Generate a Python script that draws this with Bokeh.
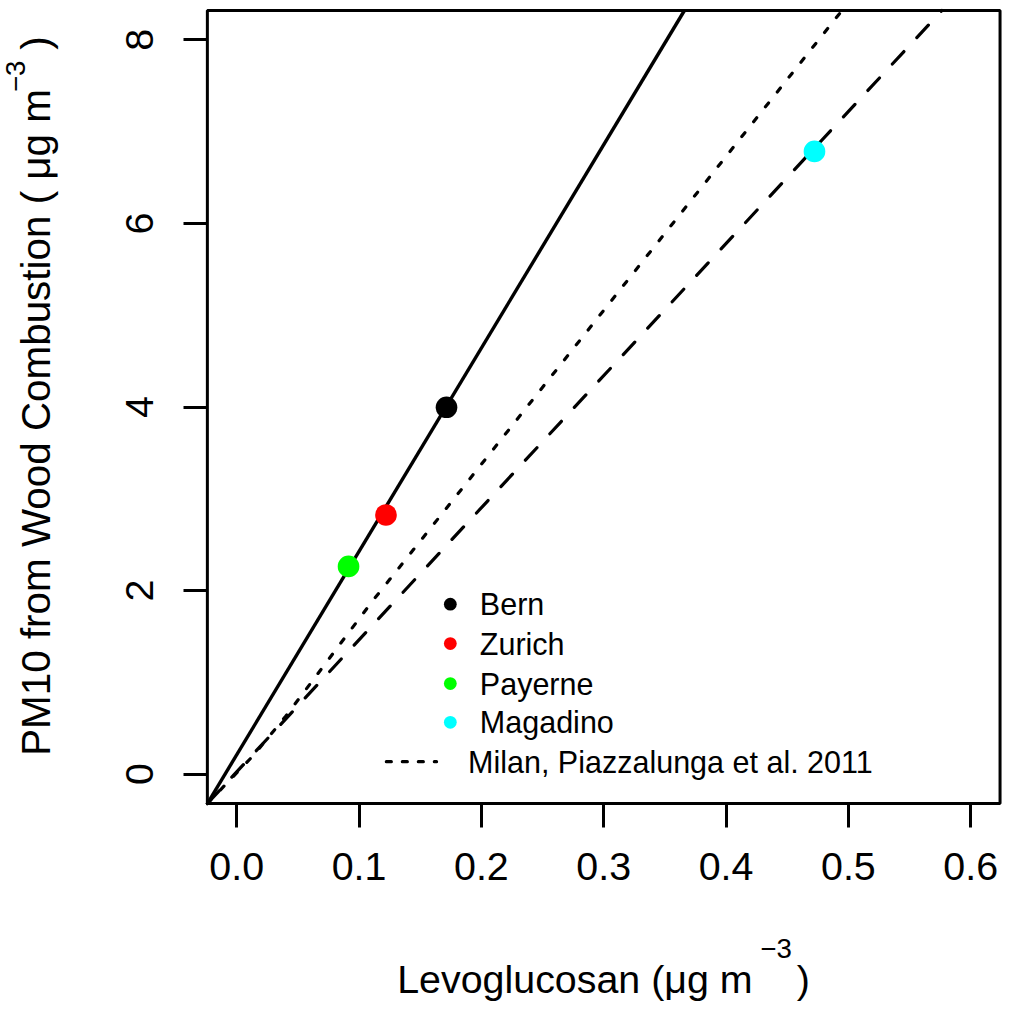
import numpy as np
from bokeh.plotting import figure
from bokeh.models import Range1d, FixedTicker, PrintfTickFormatter, Label, ColumnDataSource
from bokeh.core.properties import value
from bokeh.embed import file_html
from bokeh.resources import INLINE

# ---------------- data ----------------
sites = ["Bern", "Zurich", "Payerne", "Magadino"]
site_colors = ["#000000", "#FF0000", "#00FF00", "#00FFFF"]
levoglucosan = [0.1715, 0.122, 0.0914, 0.4723]
pm10_wood = [3.997, 2.824, 2.263, 6.785]

solid_x = [-0.024, 0.366]
solid_y = [-0.32, 8.32]
dashed_x = [-0.024, 0.5765]
dashed_y = [-0.32, 8.32]
milan_x = [-0.024, 0.0137, 0.0402, 0.110, 0.1905, 0.4948]
milan_y = [-0.32, 0.205, 0.633, 1.869, 3.217, 8.32]
milan_label = "Milan, Piazzalunga et al. 2011"

x_ticks = [0.0, 0.1, 0.2, 0.3, 0.4, 0.5, 0.6]
y_ticks = [0, 2, 4, 6, 8]
X0, X1 = -0.024, 0.624     # plot box limits
Y0, Y1 = -0.32, 8.32

# ---------------- layout ----------------
W, H = 1002, 1003
S = W / 1018.0              # scale from reference pixels to canvas pixels
FONT = "Liberation Sans"
PX0, PXU = 240.0, 1242.8    # reference pixel <-> data mapping
PY0, PYU = 786.0, 93.25
BASE_SHIFT = 0.405          # Label anchor correction (fraction of font size)


def rx(px):
    return (px - PX0) / PXU


def ry(py):
    return (PY0 - py) / PYU


def fs(v):
    return f"{v * S:.1f}px"


p = figure(width=W, height=H, x_range=Range1d(rx(0), rx(1018)), y_range=Range1d(ry(1019), ry(0)),
           output_backend="svg", toolbar_location=None, tools="", title=None,
           min_border_left=0, min_border_right=0, min_border_top=0, min_border_bottom=0)
p.min_border = 0
p.xgrid.visible = False
p.ygrid.visible = False
p.background_fill_color = "white"
p.border_fill_color = "white"
p.outline_line_color = None

for ax in (p.xaxis[0], p.yaxis[0]):
    ax.major_tick_out = 24
    ax.major_tick_in = 0
    ax.major_tick_line_width = 3
    ax.major_tick_line_color = "black"
    ax.minor_tick_line_color = None
    ax.axis_line_color = None
    ax.major_label_text_font = FONT
    ax.major_label_text_font_size = fs(40)
    ax.major_label_text_color = "black"

p.xaxis.fixed_location = Y0
p.yaxis.fixed_location = X0
p.xaxis.major_label_standoff = 25
p.yaxis.major_label_standoff = 30
p.xaxis.ticker = FixedTicker(ticks=x_ticks)
p.xaxis.formatter = PrintfTickFormatter(format="%.1f")
p.yaxis.ticker = FixedTicker(ticks=y_ticks)
p.yaxis.formatter = PrintfTickFormatter(format="%d")
p.yaxis.major_label_orientation = "vertical"

# lines
p.line(solid_x, solid_y, line_color="black", line_width=3.4)
p.line(milan_x, milan_y, line_color="black", line_width=3.2,
       line_dash="5 14", line_cap="round")
p.line(dashed_x, dashed_y, line_color="black", line_width=3.2,
       line_dash="17 19", line_cap="round")

# points
src = ColumnDataSource(dict(x=levoglucosan, y=pm10_wood, c=site_colors, name=sites))
p.scatter("x", "y", source=src, size=22 * S, fill_color="c", line_color=None)

# plot box
p.quad(left=[X0], right=[X1], bottom=[Y0], top=[Y1], fill_color=None,
       line_color="black", line_width=3)

# legend (drawn R style, no box)
leg_dot_x = rx(457)
leg_text_x = rx(487)
leg_milan_text_x = rx(475)
leg_line_x = [rx(392), rx(443)]
leg_rows = [ry(v) for v in (613.3, 653.3, 694.0, 733.3, 773.3)]
p.scatter([leg_dot_x] * 4, leg_rows[:4], size=13 * S, fill_color=site_colors, line_color=None)
p.text([leg_text_x] * 4, leg_rows[:4], text=sites, text_font=value(FONT),
       text_font_size=fs(31), text_baseline="middle", text_align="left", text_color="black")
p.line(leg_line_x, [leg_rows[4]] * 2, line_color="black", line_width=3.2,
       line_dash="5 11", line_cap="round")
p.text([leg_milan_text_x], [leg_rows[4]], text=[milan_label], text_font=value(FONT),
       text_font_size=fs(31), text_baseline="middle", text_align="left", text_color="black")


# axis titles (with superscripts); px/py give the wanted baseline in reference pixels
def lab(text, px, py, size, align="left", vertical=False):
    shift = BASE_SHIFT * size
    if vertical:
        px, angle = px - shift, np.pi / 2
    else:
        py, angle = py - shift, 0.0
    p.add_layout(Label(x=rx(px), y=ry(py), text=text, text_font=FONT,
                       text_font_size=fs(size), text_align=align,
                       text_baseline="alphabetic", angle=angle, text_color="black"))


lab("Levoglucosan (μg m", 403, 1010, 40)
lab("−3", 772, 974, 28)
lab(")", 809, 1010, 40)

lab("PM10 from Wood Combustion ( μg m", 53, 90, 41, align="right", vertical=True)
lab("−3", 27, 93, 28, align="left", vertical=True)
lab(")", 53, 50, 41, align="left", vertical=True)

open("out.html", "w").write(file_html(p, INLINE))
